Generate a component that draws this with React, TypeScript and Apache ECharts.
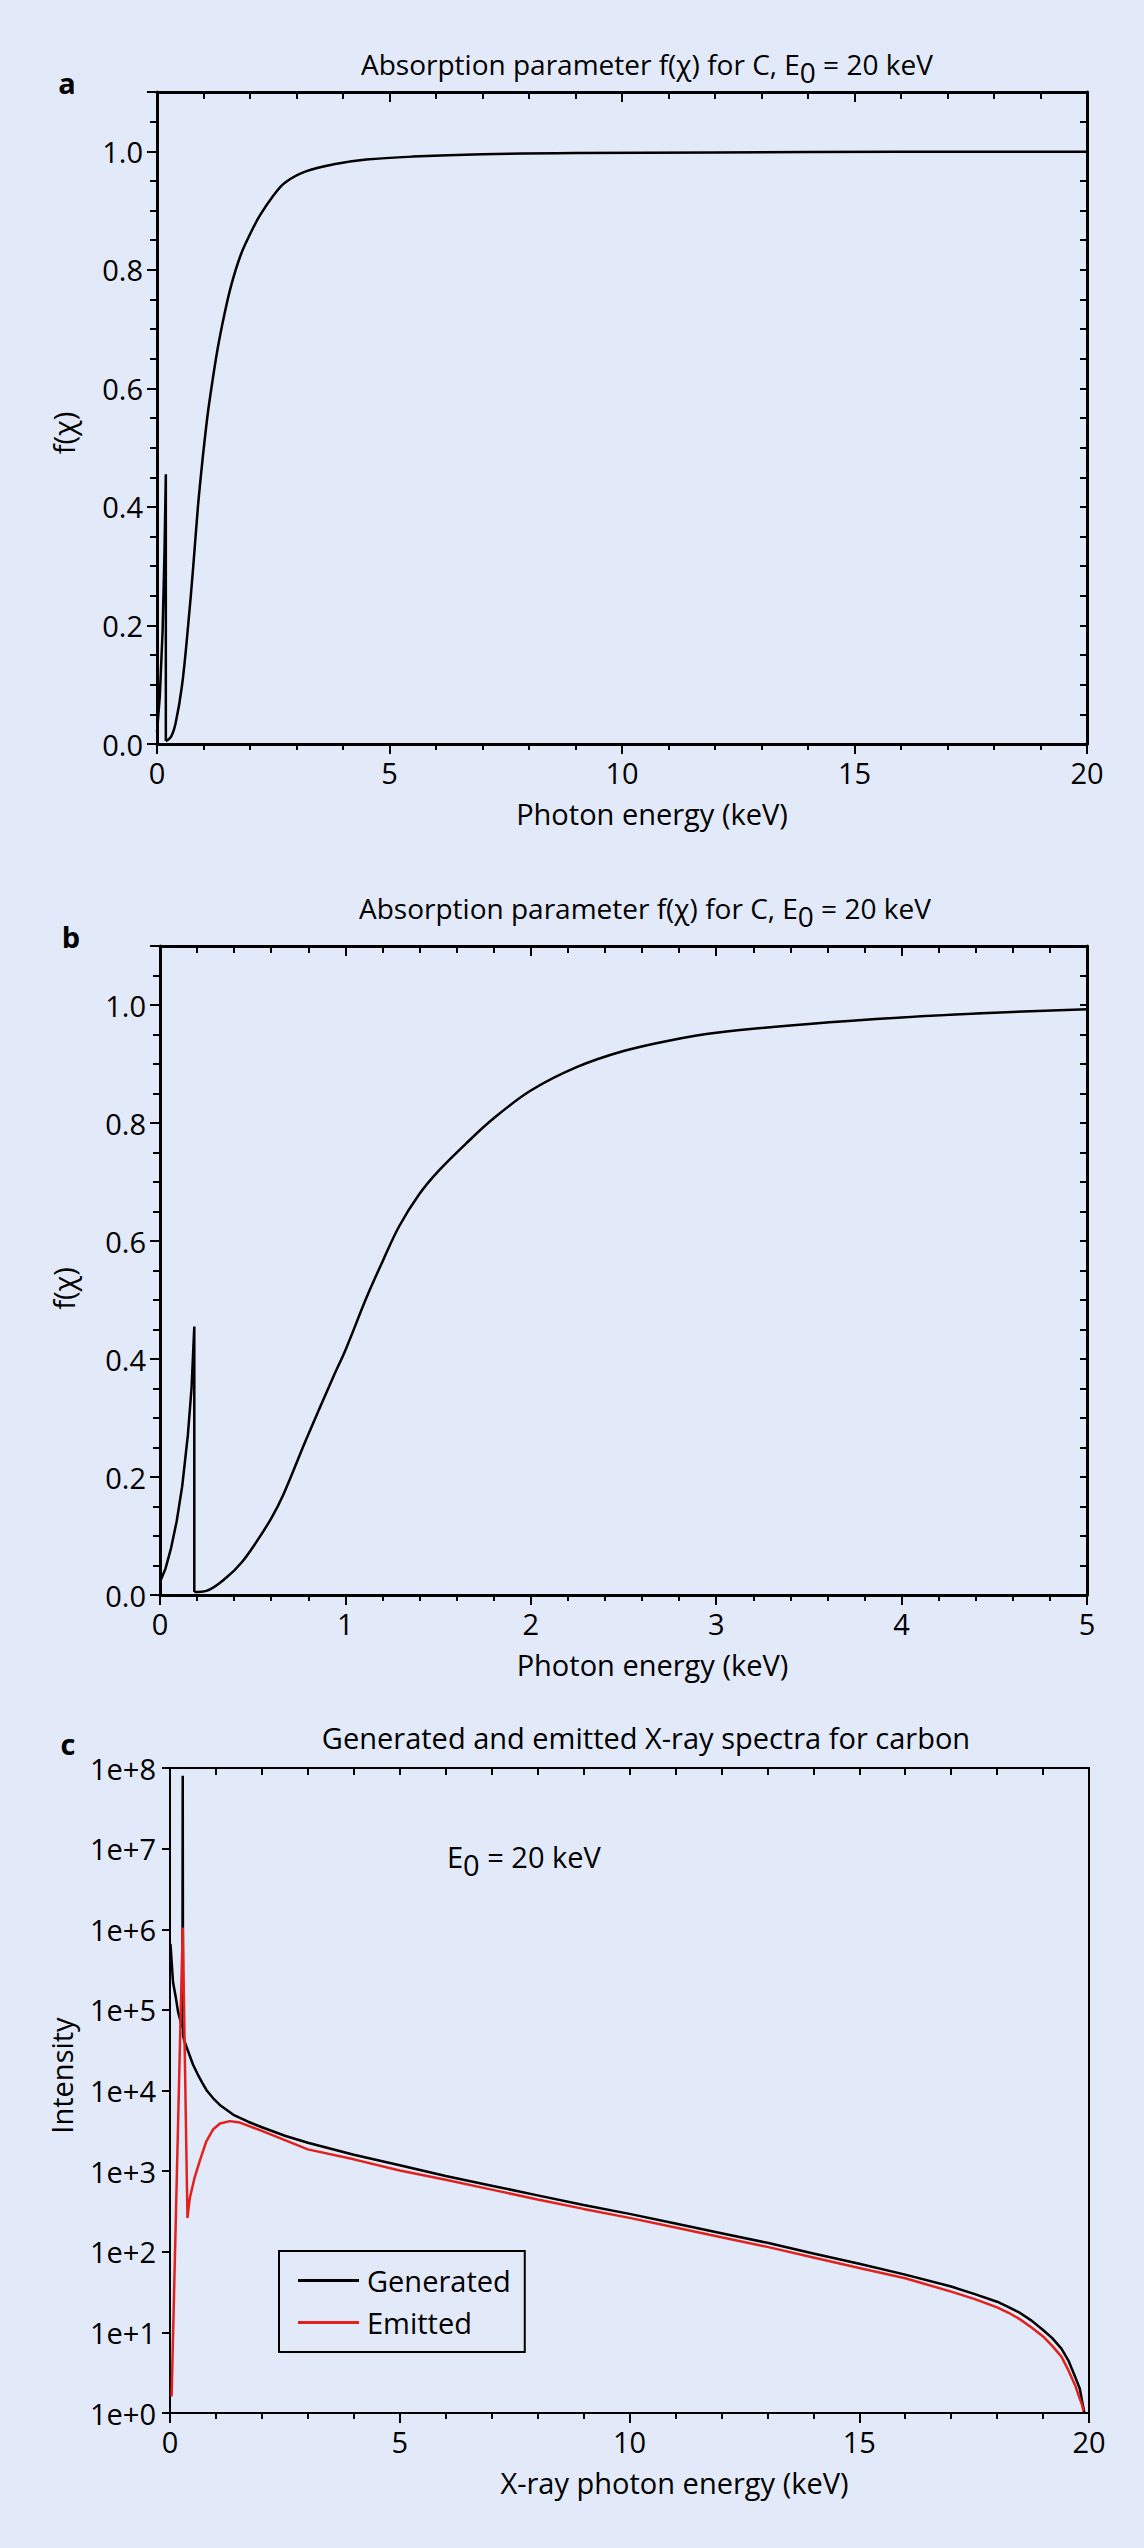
import React, { useEffect, useRef } from 'react';
import * as echarts from 'echarts';

// ---------- Panel a: f(chi) for C, 0–20 keV ----------
const edgeA_E = [0, 0.06, 0.12, 0.16, 0.19, 0.19];
const edgeA_f = [0.02, 0.08, 0.19, 0.32, 0.455, 0.005];
const curveA_E = [0.19, 0.3, 0.4, 0.54, 0.67, 0.78, 0.88, 0.98, 1.08, 1.15, 1.3, 1.45, 1.6, 1.8, 2.0, 2.2, 2.5, 2.75, 3.2, 3.8, 4.5, 5.5, 7, 9, 12, 16, 20];
const curveA_f = [0.005, 0.012, 0.035, 0.1, 0.2, 0.3, 0.4, 0.48, 0.55, 0.59, 0.665, 0.725, 0.775, 0.825, 0.86, 0.89, 0.925, 0.947, 0.966, 0.978, 0.986, 0.991, 0.995, 0.997, 0.998, 0.999, 0.999];

// ---------- Panel b: f(chi) for C, 0–5 keV ----------
const edgeB_E = [0, 0.03, 0.06, 0.09, 0.12, 0.15, 0.17, 0.185, 0.185];
const edgeB_f = [0.022, 0.045, 0.08, 0.125, 0.185, 0.27, 0.35, 0.455, 0.005];
const curveB_E = [0.185, 0.25, 0.36, 0.44, 0.52, 0.6, 0.665, 0.79, 0.935, 1.0, 1.115, 1.2, 1.29, 1.4, 1.5, 1.65, 1.8, 2.0, 2.25, 2.5, 2.75, 3.0, 3.5, 4.0, 4.5, 5.0];
const curveB_f = [0.005, 0.007, 0.03, 0.055, 0.09, 0.13, 0.17, 0.265, 0.37, 0.415, 0.505, 0.565, 0.625, 0.68, 0.718, 0.765, 0.808, 0.855, 0.895, 0.922, 0.94, 0.953, 0.968, 0.979, 0.987, 0.993];

// ---------- Panel c: generated and emitted spectra ----------
const genE = [0.01, 0.066, 0.12, 0.175, 0.25, 0.27, 0.277, 0.284, 0.32, 0.4, 0.5, 0.6, 0.7, 0.8, 0.94, 1.1, 1.38, 1.7, 2, 2.5, 3, 4, 5, 6, 7, 8, 9, 10, 11, 12, 13, 14, 15, 16, 17, 17.5, 18, 18.25, 18.5, 18.75, 19, 19.2, 19.4, 19.55, 19.7, 19.8, 19.85, 19.9];
const genI = [6.6e5, 2.2e5, 1.5e5, 9.5e4, 6.5e4, 6e4, 8e7, 4.8e4, 4e4, 3e4, 2.1e4, 1.6e4, 1.25e4, 1e4, 8e3, 6.5e3, 5e3, 4.1e3, 3.5e3, 2.75e3, 2.25e3, 1.6e3, 1.18e3, 870, 660, 500, 380, 295, 224, 170, 129, 95, 71, 52, 37, 30, 24, 20.5, 17.4, 14, 10.7, 8.5, 6.3, 4.5, 2.8, 2.0, 1.4, 1.0];
const emitE = [0.035, 0.277, 0.38, 0.43, 0.54, 0.65, 0.79, 0.94, 1.09, 1.3, 1.52, 2, 2.5, 3, 4, 5, 6, 7, 8, 9, 10, 11, 12, 13, 14, 15, 16, 17, 17.5, 18, 18.25, 18.5, 18.75, 19, 19.2, 19.4, 19.55, 19.7, 19.8, 19.85, 19.88];
const emitI = [1.6, 1.05e6, 263, 460, 850, 1350, 2340, 3300, 3900, 4170, 4000, 3160, 2430, 1860, 1400, 1020, 780, 590, 445, 340, 263, 200, 151, 115, 85, 63, 47, 32, 26, 20.4, 17.5, 14.5, 11.5, 8.9, 6.8, 5, 3.4, 2.2, 1.5, 1.26, 1.05];

const seriesNames = ['Generated', 'Emitted'];

const FONT = '"Open Sans", Lato, sans-serif';
const BG = '#E2E9F8';
const RED = '#E3211C';
const FS = 29;

const zip = (xs: number[], ys: number[]) => xs.map((x, i) => [x, ys[i]]);

const blackLine = (w = 2) => ({ color: '#000', width: w });

function xBottom(grid: number, max: number, interval: number, name: string, namePad: number, lw: number) {
  return {
    type: 'value', gridIndex: grid, position: 'bottom', min: 0, max, interval,
    axisLine: { show: true, onZero: false, lineStyle: blackLine(lw) },
    axisTick: { show: true, inside: false, length: 10, lineStyle: blackLine(2) },
    minorTick: { show: true, splitNumber: 5, length: 6, lineStyle: blackLine(2) },
    splitLine: { show: false }, minorSplitLine: { show: false },
    axisLabel: { show: true, color: '#000', fontFamily: FONT, fontSize: FS, margin: 14 },
    name, nameLocation: 'middle', nameGap: 55,
    nameTextStyle: { color: '#000', fontFamily: FONT, fontSize: FS, padding: [0, 0, 0, namePad] },
  };
}

function xTop(grid: number, max: number, interval: number, minorSplit: number, lw: number, majorLen: number) {
  return {
    type: 'value', gridIndex: grid, position: 'top', min: 0, max, interval,
    axisLine: { show: true, onZero: false, lineStyle: blackLine(lw) },
    axisTick: { show: true, inside: true, length: majorLen, lineStyle: blackLine(2) },
    minorTick: { show: minorSplit > 0, splitNumber: minorSplit || 5, length: 7, lineStyle: blackLine(2) },
    splitLine: { show: false }, minorSplitLine: { show: false },
    axisLabel: { show: false },
  };
}

function yMainF(grid: number, nameGap: number, namePadRight: number) {
  return {
    type: 'value', gridIndex: grid, position: 'left', min: 0, max: 1.1, interval: 0.2,
    axisLine: { show: true, onZero: false, lineStyle: blackLine(3) },
    axisTick: { show: true, inside: false, length: 10, lineStyle: blackLine(2) },
    splitLine: { show: false },
    axisLabel: {
      show: true, color: '#000', fontFamily: FONT, fontSize: FS, margin: 14,
      formatter: (v: number) => (v > 1.05 ? '' : v.toFixed(1)),
    },
    name: 'f(χ)', nameLocation: 'middle', nameGap, nameRotate: 90,
    nameTextStyle: { color: '#000', fontFamily: FONT, fontSize: FS, padding: [0, namePadRight, 0, 0] },
  };
}

function yMinorF(grid: number) {
  return {
    type: 'value', gridIndex: grid, position: 'left', min: 0, max: 1.1, interval: 0.05,
    axisLine: { show: false },
    axisTick: { show: true, inside: false, length: 7, lineStyle: blackLine(2) },
    splitLine: { show: false }, axisLabel: { show: false },
  };
}

function yRightF(grid: number) {
  return {
    type: 'value', gridIndex: grid, position: 'right', min: 0, max: 1.1, interval: 0.05,
    axisLine: { show: true, onZero: false, lineStyle: blackLine(3) },
    axisTick: { show: true, inside: true, length: 7, lineStyle: blackLine(2) },
    splitLine: { show: false }, axisLabel: { show: false },
  };
}

function subTitle(x: number, y: number, before: string, sub: string, after: string, align = 'center', fs = FS) {
  return {
    type: 'text', x, y,
    style: {
      text: `{n|${before}}{s|${sub}}{n|${after}}`,
      align, verticalAlign: 'middle', fill: '#000', fontSize: fs, fontFamily: FONT,
      rich: {
        n: { fontSize: fs, fontFamily: FONT, fill: '#000', verticalAlign: 'middle' },
        s: { fontSize: fs, fontFamily: FONT, fill: '#000', verticalAlign: 'middle', padding: [16, 0, 0, 0] },
      },
    },
  };
}

function plainText(x: number, y: number, text: string, bold = false) {
  return {
    type: 'text', x, y,
    style: { text, align: 'center', verticalAlign: 'middle', fill: '#000', fontSize: FS, fontFamily: FONT, fontWeight: bold ? 'bold' : 'normal' },
  };
}

export default function App() {
  const ref = useRef<HTMLDivElement>(null);

  useEffect(() => {
    document.body.style.margin = '0';
    if (!ref.current) return;
    const chart = echarts.init(ref.current, undefined, { renderer: 'svg' });

    const option: any = {
      animation: false,
      backgroundColor: BG,
      textStyle: { fontFamily: FONT },
      grid: [
        { left: 157, top: 92, width: 930, height: 652, containLabel: false },
        { left: 160, top: 946, width: 927, height: 649, containLabel: false },
        { left: 170, top: 1768, width: 919, height: 645, containLabel: false },
      ],
      xAxis: [
        xBottom(0, 20, 5, 'Photon energy (keV)', 60, 3),
        xTop(0, 20, 5, 5, 3, 10),
        xBottom(1, 5, 1, 'Photon energy (keV)', 58, 3),
        xTop(1, 5, 1, 5, 3, 10),
        xBottom(2, 20, 5, 'X-ray photon energy (keV)', 90, 2),
        xTop(2, 20, 1, 0, 2, 7),
      ],
      yAxis: [
        yMainF(0, 79, 30),
        yMinorF(0),
        yRightF(0),
        yMainF(1, 82, 36),
        yMinorF(1),
        yRightF(1),
        {
          type: 'log', logBase: 10, gridIndex: 2, position: 'left', min: 1, max: 1e8,
          axisLine: { show: true, onZero: false, lineStyle: blackLine(2) },
          axisTick: { show: true, inside: false, length: 8, lineStyle: blackLine(2) },
          minorTick: { show: false },
          splitLine: { show: false }, minorSplitLine: { show: false },
          axisLabel: {
            show: true, color: '#000', fontFamily: FONT, fontSize: FS, margin: 14,
            formatter: (v: number) => '1e+' + Math.round(Math.log10(v)),
          },
          name: 'Intensity', nameLocation: 'middle', nameGap: 94, nameRotate: 90,
          nameTextStyle: { color: '#000', fontFamily: FONT, fontSize: FS, padding: [0, 0, 0, 30] },
        },
        {
          type: 'log', logBase: 10, gridIndex: 2, position: 'right', min: 1, max: 1e8,
          axisLine: { show: true, onZero: false, lineStyle: blackLine(2) },
          axisTick: { show: false }, splitLine: { show: false }, axisLabel: { show: false },
        },
      ],
      legend: {
        data: seriesNames, orient: 'vertical', left: 279, top: 2251,
        borderColor: '#000', borderWidth: 2, borderRadius: 0,
        padding: [15, 14, 15, 19], itemGap: 13, itemWidth: 61, itemHeight: 3, icon: 'rect',
        selectedMode: false,
        textStyle: { color: '#000', fontFamily: FONT, fontSize: FS, padding: [0, 0, 0, 3] },
      },
      graphic: [
        plainText(67, 82, 'a', true),
        plainText(71, 936, 'b', true),
        plainText(68, 1743, 'c', true),
        subTitle(361, 64, 'Absorption parameter f(χ) for C, E', '0', ' = 20 keV', 'left', 28),
        subTitle(359, 908, 'Absorption parameter f(χ) for C, E', '0', ' = 20 keV', 'left', 28),
        plainText(646, 1737, 'Generated and emitted X-ray spectra for carbon'),
        subTitle(447, 1856, 'E', '0', ' = 20 keV', 'left'),
      ],
      series: [
        {
          type: 'line', xAxisIndex: 0, yAxisIndex: 0, data: zip(edgeA_E, edgeA_f),
          showSymbol: false, symbol: 'none', color: '#000', lineStyle: blackLine(2.5), silent: true,
        },
        {
          type: 'line', xAxisIndex: 0, yAxisIndex: 0, data: zip(curveA_E, curveA_f),
          showSymbol: false, symbol: 'none', smooth: 0.35, color: '#000', lineStyle: blackLine(2.5), silent: true,
        },
        {
          type: 'line', xAxisIndex: 2, yAxisIndex: 3, data: zip(edgeB_E, edgeB_f),
          showSymbol: false, symbol: 'none', color: '#000', lineStyle: blackLine(2.5), silent: true,
        },
        {
          type: 'line', xAxisIndex: 2, yAxisIndex: 3, data: zip(curveB_E, curveB_f),
          showSymbol: false, symbol: 'none', smooth: 0.35, color: '#000', lineStyle: blackLine(2.5), silent: true,
        },
        {
          name: seriesNames[0], type: 'line', xAxisIndex: 4, yAxisIndex: 6, data: zip(genE, genI),
          showSymbol: false, symbol: 'none', color: '#000', itemStyle: { color: '#000' },
          lineStyle: blackLine(2.5), silent: true,
        },
        {
          name: seriesNames[1], type: 'line', xAxisIndex: 4, yAxisIndex: 6, data: zip(emitE, emitI),
          showSymbol: false, symbol: 'none', color: RED, itemStyle: { color: RED },
          lineStyle: { color: RED, width: 2.5 }, silent: true,
        },
      ],
    };

    chart.setOption(option);
    return () => chart.dispose();
  }, []);

  return <div ref={ref} style={{ width: 1144, height: 2548, background: BG }} />;
}
